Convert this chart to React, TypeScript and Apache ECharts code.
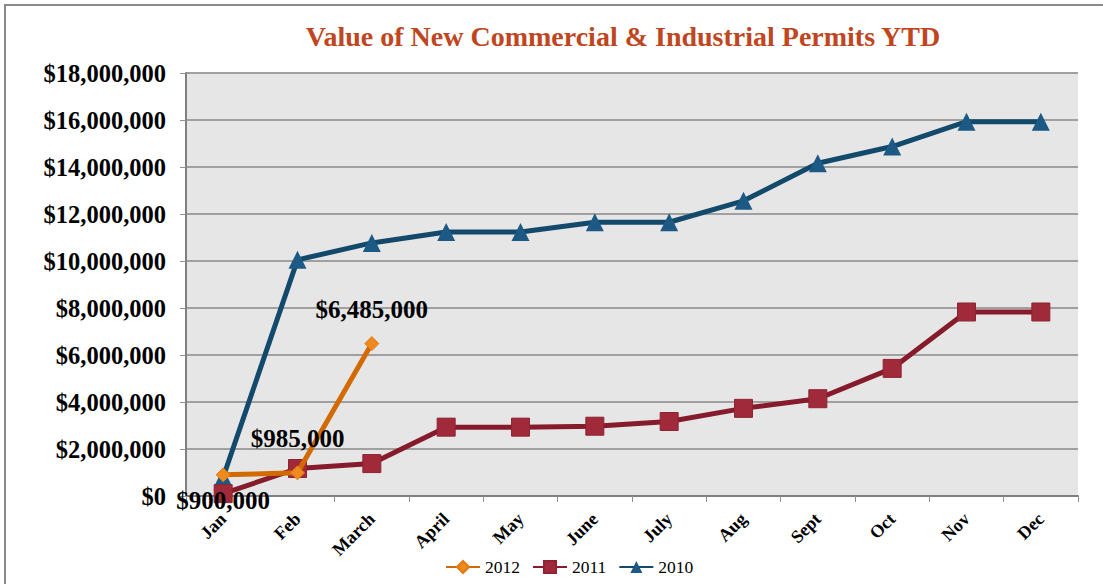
import React, { useEffect, useRef } from "react";
import * as echarts from "echarts";

const months = ["Jan", "Feb", "March", "April", "May", "June", "July", "Aug", "Sept", "Oct", "Nov", "Dec"];
const v2012 = [900000, 985000, 6485000];
const v2011 = [100000, 1170000, 1380000, 2930000, 2930000, 2970000, 3170000, 3730000, 4140000, 5430000, 7830000, 7830000];
const v2010 = [800000, 10050000, 10770000, 11230000, 11230000, 11650000, 11650000, 12560000, 14160000, 14870000, 15930000, 15930000];
const labelPos2012 = ["bottom", "top", "top"];

const money = (v: number) => "$" + Math.round(v).toString().replace(/\B(?=(\d{3})+(?!\d))/g, ",");

const SERIF = "Liberation Serif";

export default function App() {
  const ref = useRef<HTMLDivElement>(null);
  useEffect(() => {
    if (!ref.current) return;
    const chart = echarts.init(ref.current, undefined, { renderer: "svg" });
    chart.setOption({
      animation: false,
      backgroundColor: "#ffffff",
      title: {
        text: "Value of New Commercial & Industrial Permits YTD",
        left: 618,
        top: 17,
        textAlign: "center",
        textStyle: { fontFamily: SERIF, fontWeight: "bold", fontSize: 28, color: "#BF4620" },
      },
      graphic: [
        {
          type: "rect",
          shape: { x: 5, y: 5, width: 1300, height: 800 },
          style: { fill: "none", stroke: "#8a8a8a", lineWidth: 2 },
          silent: true,
        },
      ],
      legend: {
        bottom: 3,
        left: 440,
        itemWidth: 34,
        itemHeight: 15,
        itemGap: 12,
        textStyle: { fontFamily: SERIF, fontSize: 17.5, color: "#000" },
        data: ["2012", "2011", "2010"],
      },
      grid: { left: 186, right: 25, top: 73, bottom: 88, backgroundColor: "#E6E6E6", show: true, borderWidth: 0 },
      xAxis: {
        type: "category",
        data: months,
        boundaryGap: true,
        axisLine: { lineStyle: { color: "#808080", width: 2 } },
        axisTick: { show: true, length: 6, lineStyle: { color: "#909090", width: 1 } },
        axisLabel: {
          rotate: 45,
          interval: 0,
          fontFamily: SERIF,
          fontWeight: "bold",
          fontSize: 18,
          color: "#000",
          margin: 20,
        },
      },
      yAxis: {
        type: "value",
        min: 0,
        max: 18000000,
        interval: 2000000,
        axisLine: { show: true, lineStyle: { color: "#808080", width: 2 } },
        axisTick: { show: true, length: 6, lineStyle: { color: "#909090", width: 1 } },
        splitLine: { lineStyle: { color: "#A0A0A0", width: 2 } },
        axisLabel: {
          formatter: (v: number) => money(v),
          fontFamily: SERIF,
          fontWeight: "bold",
          fontSize: 24.5,
          color: "#000",
          margin: 20,
        },
      },
      series: [
        {
          name: "2012",
          type: "line",
          data: v2012.map((v, i) => ({
            value: v,
            label: { position: labelPos2012[i], distance: labelPos2012[i] === "bottom" ? 6 : 14 },
          })),
          symbol: "diamond",
          symbolSize: 14,
          lineStyle: { color: "#D26A00", width: 5 },
          itemStyle: { color: "#EF8A1E", borderColor: "#E07A10", borderWidth: 1 },
          label: {
            show: true,
            formatter: (p: any) => money(p.value),
            fontFamily: SERIF,
            fontWeight: "bold",
            fontSize: 25,
            color: "#000",
          },
          z: 4,
        },
        {
          name: "2011",
          type: "line",
          data: v2011,
          symbol: "rect",
          symbolSize: 18,
          lineStyle: { color: "#861B2B", width: 5 },
          itemStyle: { color: "#A02A3A", borderColor: "#8E2333", borderWidth: 1 },
          z: 3,
        },
        {
          name: "2010",
          type: "line",
          data: v2010,
          symbol: "triangle",
          symbolSize: 18,
          lineStyle: { color: "#134A6B", width: 5 },
          itemStyle: { color: "#1C5A85" },
          z: 2,
        },
      ],
    });
    return () => chart.dispose();
  }, []);
  return <div ref={ref} style={{ position: "absolute", left: 0, top: 0, width: 1103, height: 584 }} />;
}
